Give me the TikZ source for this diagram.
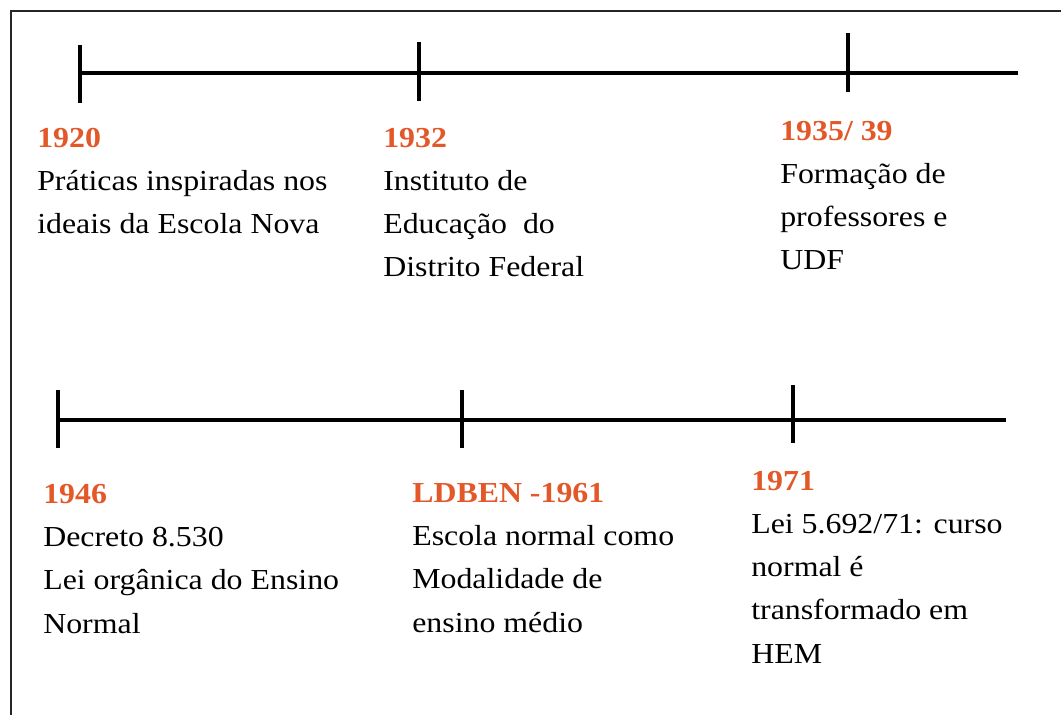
\documentclass[tikz,border=0pt]{standalone}
\usepackage{fontspec}
\setmainfont[FakeStretch=1.1]{Liberation Serif}
\definecolor{laranjaAno}{RGB}{226,88,40}
\newcommand{\anoTxt}[1]{{\color{laranjaAno}\bfseries #1}}

\begin{document}
\begin{tikzpicture}[
    x=0.025cm, y=-0.025cm,
    every node/.style={font=\fontsize{20.6}{30.6}\selectfont},
    linha/.style={line width=2.8pt},
    moldura/.style={line width=1.2pt, black!85},
    evento/.style={anchor=base west, align=left, inner sep=0pt}
]
\useasboundingbox (0,0) rectangle (1061,715);
\clip (0,0) rectangle (1061,715);
% Moldura
\draw[moldura] (11,760) -- (11,11) -- (1100,11);
% Linha superior
\coordinate (supIni) at (80,73);
\coordinate (supFim) at (1018,73);
\draw[linha] (supIni) -- (supFim);
\draw[linha] (80,45) -- (80,103);
\draw[linha] (419,42) -- (419,101);
\draw[linha] (848,33) -- (848,92);
% Linha inferior
\coordinate (infIni) at (58,420);
\coordinate (infFim) at (1006,420);
\draw[linha] (infIni) -- (infFim);
\draw[linha] (58,390) -- (58,448);
\draw[linha] (462,390) -- (462,448);
\draw[linha] (793,385) -- (793,443);
% Eventos (ancorados na ultima linha)
\node[evento] (ev1920) at (37,234) {\anoTxt{1920}\\Práticas inspiradas nos\\ideais da Escola Nova};
\node[evento] (ev1932) at (383,277) {\anoTxt{1932}\\Instituto de\\Educação\ \ do\\Distrito Federal};
\node[evento] (ev1935) at (780,270) {\anoTxt{1935/\ 39}\\Formação de\\professores e\\UDF};
\node[evento] (ev1946) at (43,633) {\anoTxt{1946}\\Decreto 8.530\\Lei orgânica do Ensino\\Normal};
\node[evento] (ev1961) at (412,632) {\anoTxt{LDBEN -1961}\\Escola normal como\\Modalidade de\\ensino médio};
\node[evento] (ev1971) at (751,663) {\anoTxt{1971}\\Lei 5.692/71: curso\\normal é\\transformado em\\HEM};
\end{tikzpicture}
\end{document}
